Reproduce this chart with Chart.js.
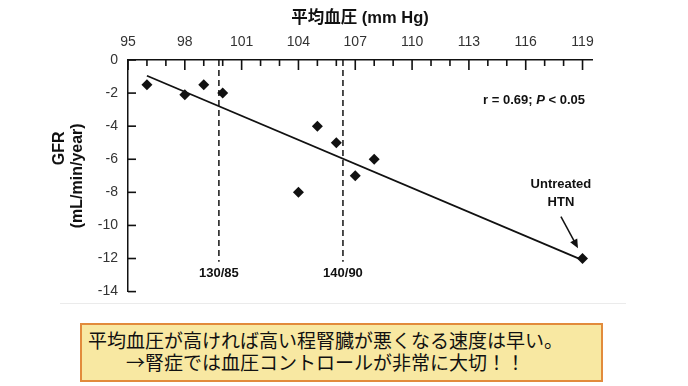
<!DOCTYPE html>
<html>
<head>
<meta charset="utf-8">
<script src="https://cdn.jsdelivr.net/npm/chart.js@4"></script>
<style>
  html, body { margin: 0; padding: 0; background: #fff; }
  body { width: 688px; height: 386px; position: relative; overflow: hidden; }
  #wrap { position: absolute; left: 0; top: 0; width: 688px; height: 310px; }
  #rule { position: absolute; left: 60px; top: 303px; width: 566px; height: 1px; background: #ebebeb; }
  #note {
    position: absolute; left: 80px; top: 323px; width: 519px; height: 51px;
    background: #f8e8a2; border: 2px solid #e28b3c;
    font-family: "Noto Sans CJK JP", sans-serif; font-size: 19px; line-height: 22px;
    color: #111; text-align: center; padding-top: 4px; box-sizing: content-box;
  }
  #note div { padding-right: 32px; white-space: nowrap; }
</style>
</head>
<body>
<div id="wrap"><canvas id="chart" width="688" height="310"></canvas></div>
<div id="rule"></div>
<div id="note">
  <div>平均血圧が高ければ高い程腎臓が悪くなる速度は早い。</div>
  <div>→腎症では血圧コントロールが非常に大切！！</div>
</div>
<script>
// mean arterial pressure (mm Hg) vs GFR change (mL/min/year)
const mapValues = [96, 98, 99, 100, 104, 105, 106, 107, 108, 119];
const gfrValues = [-1.5, -2.1, -1.5, -2.0, -8.0, -4.0, -5.0, -7.0, -6.0, -12.0];

// regression line
const trendX = [96, 119];
const trendY = [-0.95, -12.1];

// BP thresholds shown as dashed lines
const thresholdLabels = ['130/85', '140/90'];
const thresholdX = [99.8, 106.35];
const thresholdBottom = -12.2;

const xTickLabels = [95, 98, 101, 104, 107, 110, 113, 116, 119];
const yTickLabels = [0, -2, -4, -6, -8, -10, -12, -14];

const FONT = '"Liberation Sans", Arial, "Noto Sans CJK JP", sans-serif';

const points = mapValues.map((x, i) => ({ x: x, y: gfrValues[i] }));
const trend = trendX.map((x, i) => ({ x: x, y: trendY[i] }));

const dashedSets = thresholdX.map(x => ({
  data: [{ x: x, y: 0 }, { x: x, y: thresholdBottom }],
  showLine: true,
  borderColor: '#111',
  borderWidth: 1.5,
  borderDash: [6, 4],
  pointRadius: 0
}));

// text annotations, arrow and inward tick marks
const annotate = {
  id: 'annotate',
  afterDraw(chart) {
    const ctx = chart.ctx;
    const xs = chart.scales.x;
    const ys = chart.scales.y;
    const area = chart.chartArea;

    ctx.save();
    ctx.setLineDash([]);
    ctx.strokeStyle = '#111';
    ctx.fillStyle = '#111';

    // ticks as thin filled rects so they can't get lost
    for (let v = xTickLabels[0]; v <= xTickLabels[xTickLabels.length - 1]; v++) {
      const px = xs.getPixelForValue(v);
      const len = xTickLabels.indexOf(v) >= 0 ? 10 : 6;
      ctx.fillRect(px - 0.8, area.top, 1.6, len);
    }
    yTickLabels.forEach(v => {
      const py = ys.getPixelForValue(v);
      ctx.fillRect(area.left, py - 0.8, 8, 1.6);
    });

    ctx.lineWidth = 1.5;
    ctx.textAlign = 'center';
    ctx.textBaseline = 'middle';

    // first line of the y title, sits a bit higher than the unit line
    ctx.save();
    ctx.translate(ys.left + 60, ys.getPixelForValue(-5.34));
    ctx.rotate(-Math.PI / 2);
    ctx.font = 'bold 16px ' + FONT;
    ctx.fillText('GFR', 0, 0);
    ctx.restore();

    ctx.font = 'bold 13px ' + FONT;
    thresholdLabels.forEach((t, i) => {
      ctx.fillText(t, xs.getPixelForValue(thresholdX[i]), ys.getPixelForValue(-12.92));
    });

    ctx.fillText('Untreated', xs.getPixelForValue(117.86), ys.getPixelForValue(-7.5));
    ctx.fillText('HTN', xs.getPixelForValue(117.86), ys.getPixelForValue(-8.58));

    // r / P text, right aligned
    const parts = [
      ['r = 0.69; ', 'bold 13px ' + FONT],
      ['P', 'italic bold 13px ' + FONT],
      [' < 0.05', 'bold 13px ' + FONT]
    ];
    let w = 0;
    parts.forEach(p => { ctx.font = p[1]; w += ctx.measureText(p[0]).width; });
    let tx = xs.getPixelForValue(119.13) - w;
    const ty = ys.getPixelForValue(-2.44);
    ctx.textAlign = 'left';
    parts.forEach(p => {
      ctx.font = p[1];
      ctx.fillText(p[0], tx, ty);
      tx += ctx.measureText(p[0]).width;
    });

    // arrow to the untreated point
    const x1 = xs.getPixelForValue(117.86), y1 = ys.getPixelForValue(-9.47);
    const x2 = xs.getPixelForValue(118.76), y2 = ys.getPixelForValue(-11.38);
    const ang = Math.atan2(y2 - y1, x2 - x1);
    ctx.beginPath();
    ctx.moveTo(x1, y1);
    ctx.lineTo(x2 - 6 * Math.cos(ang), y2 - 6 * Math.sin(ang));
    ctx.stroke();
    ctx.beginPath();
    ctx.moveTo(x2, y2);
    ctx.lineTo(x2 - 9 * Math.cos(ang) + 4 * Math.sin(ang), y2 - 9 * Math.sin(ang) - 4 * Math.cos(ang));
    ctx.lineTo(x2 - 9 * Math.cos(ang) - 4 * Math.sin(ang), y2 - 9 * Math.sin(ang) + 4 * Math.cos(ang));
    ctx.closePath();
    ctx.fill();
    ctx.restore();
  }
};

new Chart(document.getElementById('chart'), {
  type: 'scatter',
  data: {
    datasets: [
      {
        data: points,
        pointStyle: 'rectRot',
        pointRadius: 5.5,
        backgroundColor: '#111',
        borderColor: '#111',
        borderWidth: 0
      },
      {
        data: trend,
        showLine: true,
        borderColor: '#111',
        borderWidth: 1.8,
        pointRadius: 0
      },
      ...dashedSets
    ]
  },
  options: {
    responsive: false,
    animation: false,
    layout: { padding: { left: 0, top: 0, right: 96, bottom: 15 } },
    plugins: { legend: { display: false }, tooltip: { enabled: false } },
    scales: {
      x: {
        type: 'linear',
        position: 'top',
        min: 95,
        max: 119.5,
        afterBuildTicks: s => { s.ticks = xTickLabels.map(v => ({ value: v })); },
        afterFit: s => { s.height = 60; },
        grid: { drawOnChartArea: false, drawTicks: false },
        border: { display: true, color: '#111', width: 1.5 },
        ticks: {
          autoSkip: false,
          maxRotation: 0,
          padding: 9,
          color: '#333',
          font: { family: FONT, size: 14 }
        },
        title: {
          display: true,
          text: '平均血圧 (mm Hg)',
          color: '#111',
          font: { family: FONT, size: 16.5, weight: 'bold' },
          padding: { top: 9, bottom: 0 }
        }
      },
      y: {
        type: 'linear',
        min: -14,
        max: 0,
        afterBuildTicks: s => { s.ticks = yTickLabels.map(v => ({ value: v })); },
        afterFit: s => { s.width = 128; },
        grid: { drawOnChartArea: false, drawTicks: false },
        border: { display: true, color: '#111', width: 1.5 },
        ticks: {
          padding: 10,
          color: '#333',
          font: { family: FONT, size: 14 }
        },
        title: {
          display: true,
          text: '(mL/min/year)',
          color: '#111',
          font: { family: FONT, size: 16, weight: 'bold', lineHeight: 1.2 },
          padding: { top: 68, bottom: 0 }
        }
      }
    }
  },
  plugins: [annotate]
});
</script>
</body>
</html>
